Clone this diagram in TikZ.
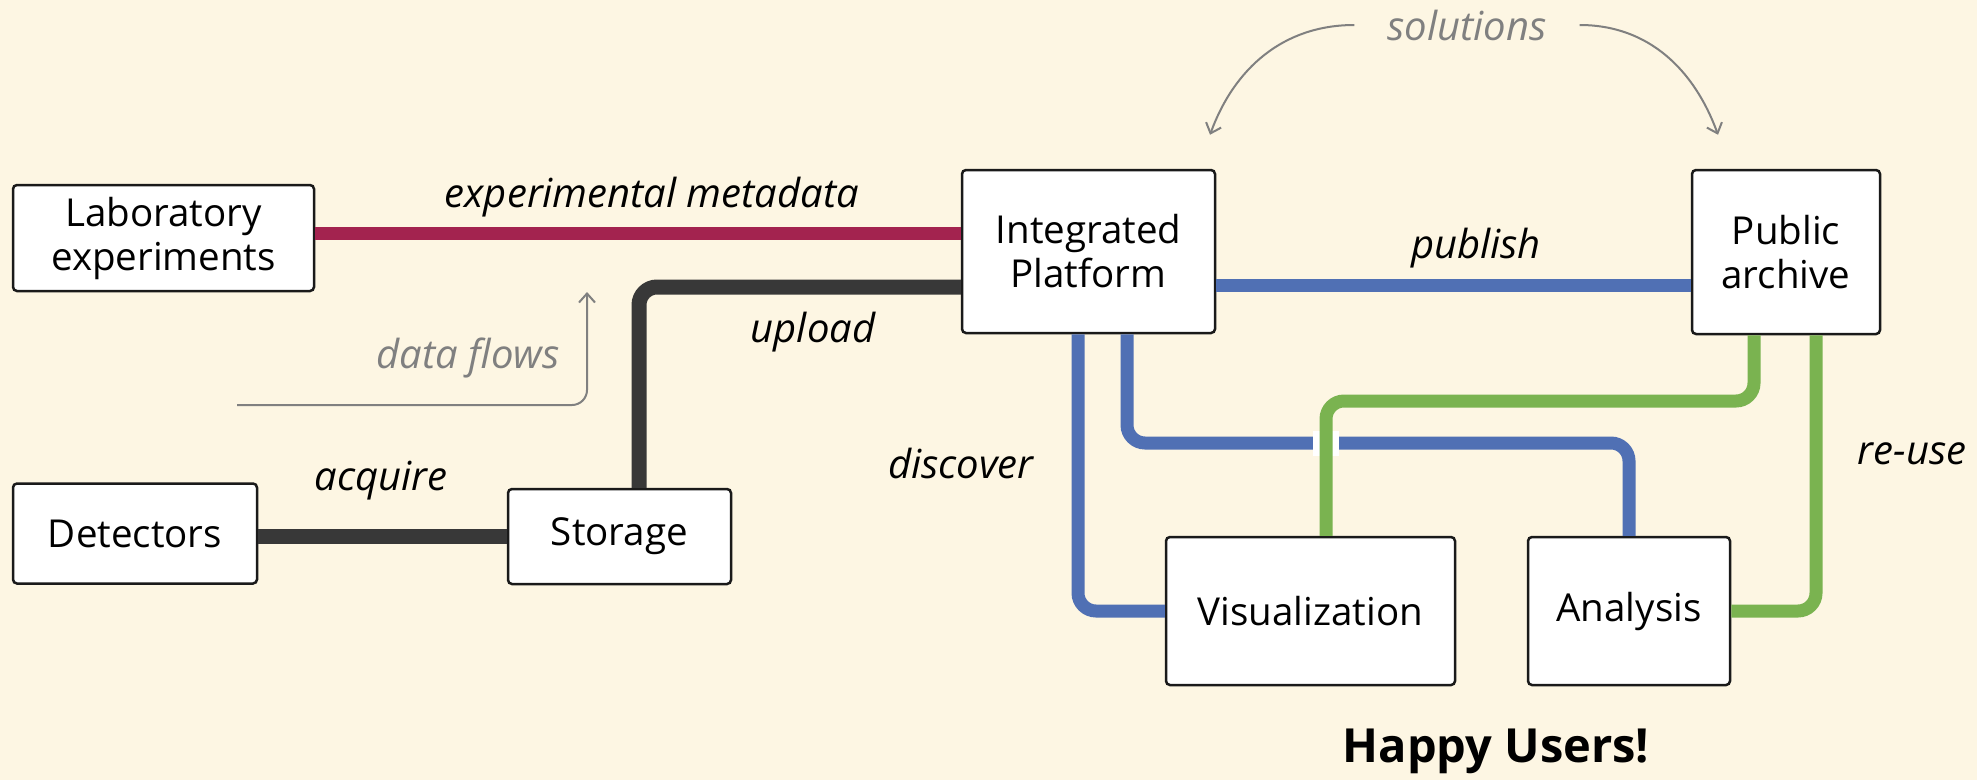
\documentclass[tikz,border=0pt]{standalone}
\usepackage{fontspec}
\setmainfont{Open Sans}
\usetikzlibrary{arrows.meta, positioning, calc}
\definecolor{paper}{RGB}{253, 246, 227}
\definecolor{metared}{RGB}{163, 35, 79}
\definecolor{linkblue}{RGB}{80, 112, 180}
\definecolor{linkgreen}{RGB}{122, 179, 80}
\definecolor{pipegray}{RGB}{56, 56, 56}
\definecolor{notegray}{RGB}{128, 128, 128}
\definecolor{boxline}{RGB}{26, 26, 26}

\begin{document}
\begin{tikzpicture}[
        x=1pt, y=-1pt,
        stage/.style={
            rectangle,
            rounded corners=4pt,
            draw=boxline,
            line width=2.5pt,
            fill=white,
            align=center,
            inner sep=0pt,
            font=\fontsize{38.5}{44}\selectfont
        },
        pipe/.style={
            line width=13pt,
            rounded corners=18pt
        },
        linklabel/.style={
            anchor=base,
            inner sep=0pt,
            font=\fontsize{40}{46}\selectfont\itshape
        },
        notelabel/.style={
            linklabel,
            text=notegray
        },
        hint/.style={
            draw=notegray,
            line width=2pt,
            -{Straight Barb[length=9pt, width=16pt, line width=2pt]}
        }
    ]
        \fill[paper] (0,0) rectangle (1977,780);

        \node[stage, minimum width=301pt, minimum height=106pt] (lab) at (163.5,238) {Laboratory\\experiments};
        \node[stage, minimum width=244pt, minimum height=100pt] (det) at (135,533.5) {Detectors};
        \node[stage, minimum width=223pt, minimum height=95pt] (stor) at (619.5,536.5) {Storage};
        \node[stage, minimum width=253pt, minimum height=163pt] (plat) at (1088.5,251.5) {Integrated\\Platform};
        \node[stage, minimum width=188pt, minimum height=164pt] (arch) at (1786,252) {Public\\archive};
        \node[stage, minimum width=289pt, minimum height=148pt] (vis) at (1310.5,611) {Visualization};
        \node[stage, minimum width=202pt, minimum height=148pt] (ana) at (1629,611) {Analysis};

        \coordinate (bluerun) at (0,443);
        \coordinate (greenrun) at (0,401);
        \coordinate (flowstart) at (237,405);
        \coordinate (flowtip) at (587,292);

        % data lines
        \draw[pipe, draw=metared] ([yshift=18.5pt]plat.west) -- ([yshift=18.5pt]plat.west -| lab.east);
        \draw[pipe, draw=pipegray, line width=15pt] (stor.west) -- (stor.west -| det.east);
        \draw[pipe, draw=pipegray, line width=15pt] ([xshift=19.5pt]stor.north) |- ([yshift=-35.5pt]plat.west);
        \draw[pipe, draw=linkblue] ([yshift=-34pt]plat.east) -- ([yshift=-34pt]plat.east -| arch.west);
        \draw[pipe, draw=linkblue] ([xshift=-10.5pt]plat.south) |- (vis.west);
        \draw[pipe, draw=linkblue] ([xshift=38.5pt]plat.south) |- (bluerun -| ana.north) -- (ana.north);
        \coordinate (cross) at ([xshift=15.5pt]vis.north |- bluerun);
        \fill[white] ([shift={(-13pt,-12.5pt)}]cross) rectangle ([shift={(13pt,12.5pt)}]cross);
        \draw[pipe, draw=linkgreen] ([xshift=-32pt]arch.south) |- (cross |- greenrun) -- ([xshift=15.5pt]vis.north);
        \draw[pipe, draw=linkgreen] ([xshift=30pt]arch.south) |- (ana.east);

        % labels
        \node[linklabel] (metalabel) at (652,207) {experimental metadata};
        \node[linklabel] (acqlabel) at (381,490) {acquire};
        \node[linklabel] (uplabel) at (813,342) {upload};
        \node[linklabel] (publabel) at (1476,258) {publish};
        \node[linklabel] (disclabel) at (961,478) {discover};
        \node[linklabel] (reuselabel) at (1912,464) {re-use};
        \node[notelabel] (flowlabel) at (468,368) {data flows};
        \node[notelabel, inner xsep=33pt] (sollabel) at (1467,40) {solutions};
        \node[anchor=base, inner sep=0pt, font=\fontsize{47}{56}\selectfont\bfseries] (happy) at (1496,762) {Happy Users!};

        % hints
        \draw[hint, rounded corners=15pt] (flowstart) -| (flowtip);
        \draw[hint] (sollabel.west) to[out=180, in=70] ([xshift=121.5pt, yshift=34pt]plat.north);
        \draw[hint] (sollabel.east) to[out=0, in=110] ([xshift=-68pt, yshift=34pt]arch.north);
    \end{tikzpicture}
\end{document}
